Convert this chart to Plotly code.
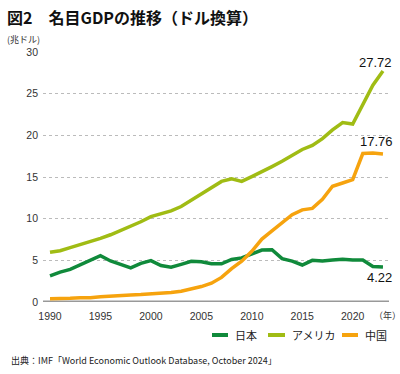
import plotly.graph_objects as go

years = list(range(1990, 2024))
japan = [3.13, 3.58, 3.91, 4.45, 4.91, 5.55, 4.92, 4.49, 4.10, 4.64, 4.97, 4.37, 4.18, 4.52, 4.89,
         4.83, 4.60, 4.58, 5.11, 5.29, 5.76, 6.23, 6.27, 5.21, 4.90, 4.44, 5.00, 4.93, 5.04, 5.12,
         5.05, 5.03, 4.26, 4.21]
usa = [5.96, 6.16, 6.52, 6.86, 7.29, 7.64, 8.07, 8.58, 9.06, 9.63, 10.25, 10.58, 10.94, 11.46, 12.21,
       13.04, 13.82, 14.47, 14.77, 14.48, 15.05, 15.60, 16.25, 16.88, 17.61, 18.30, 18.80, 19.61, 20.66,
       21.54, 21.35, 23.68, 26.01, 27.72]
china = [0.40, 0.40, 0.45, 0.52, 0.50, 0.63, 0.73, 0.80, 0.85, 0.89, 0.95, 1.05, 1.15, 1.30, 1.55,
         1.85, 2.25, 2.95, 4.00, 4.90, 6.09, 7.55, 8.53, 9.57, 10.48, 11.06, 11.23, 12.31, 13.89,
         14.28, 14.69, 17.82, 17.88, 17.76]
series_names = ["日本", "アメリカ", "中国"]
colors = ["#108a3b", "#a0bc14", "#f6a30e"]
end_labels = ["4.22", "27.72", "17.76"]
x_ticks = [1990, 1995, 2000, 2005, 2010, 2015, 2020]
y_ticks = [0, 5, 10, 15, 20, 25, 30]

NUMFONT = "Liberation Sans, Arial, sans-serif"
JPFONT = "Noto Sans CJK JP, sans-serif"

fig = go.Figure()
for name, vals, col in zip(series_names, [japan, usa, china], colors):
    fig.add_trace(go.Scatter(x=years, y=vals, mode="lines", name=name,
                             line=dict(color=col, width=3.5), showlegend=False))

# end value labels
for vals, lab, xs, ys in [(usa, end_labels[1], -7, 9), (china, end_labels[2], -6, 13),
                          (japan, end_labels[0], -3, -11)]:
    fig.add_annotation(x=years[-1], y=vals[-1], text=lab, showarrow=False,
                       xanchor="center", yanchor="middle", xshift=xs, yshift=ys,
                       font=dict(family=NUMFONT, size=13, color="#111"))

W, H = 400, 374
L, R, T, B = 43, 11, 52, 72
pw, ph = W - L - R, H - T - B

def px(x):
    return (x - L) / pw

def py(y):
    return (H - B - y) / ph

# title and unit labels
fig.add_annotation(xref="paper", yref="paper", x=px(5), y=py(17), text="<b>図2　名目GDPの推移（ドル換算）</b>",
                   showarrow=False, xanchor="left", yanchor="middle",
                   font=dict(family=JPFONT, size=16, color="#111"))
fig.add_annotation(xref="paper", yref="paper", x=px(5), y=py(40), text="(兆ドル)",
                   showarrow=False, xanchor="left", yanchor="middle",
                   font=dict(family=JPFONT, size=9, color="#333"))
fig.add_annotation(xref="paper", yref="paper", x=px(372), y=py(315), text="（年）",
                   showarrow=False, xanchor="left", yanchor="middle",
                   font=dict(family=JPFONT, size=9, color="#333"))

# manual legend
legend_items = [(212, 228, 233), (268, 285, 290), (342, 358, 363)]
for (x0, x1, xt), name, col in zip(legend_items, series_names, colors):
    fig.add_shape(type="line", xref="paper", yref="paper", x0=px(x0), x1=px(x1),
                  y0=py(335), y1=py(335), line=dict(color=col, width=4))
    fig.add_annotation(xref="paper", yref="paper", x=px(xt), y=py(335), text=name,
                       showarrow=False, xanchor="left", yanchor="middle",
                       font=dict(family=JPFONT, size=11, color="#222"))

fig.add_annotation(xref="paper", yref="paper", x=px(9), y=py(360),
                   text="出典：IMF「World Economic Outlook Database, October 2024」",
                   showarrow=False, xanchor="left", yanchor="middle",
                   font=dict(family=JPFONT, size=9, color="#222"))

# baseline
fig.add_shape(type="line", xref="paper", yref="y", x0=0, x1=1, y0=0, y1=0,
              line=dict(color="#999", width=3), layer="below")

x0 = 1990 - 7 / 10.09
fig.update_layout(
    width=W, height=H,
    margin=dict(l=L, r=R, t=T, b=B, pad=0, autoexpand=False),
    paper_bgcolor="white", plot_bgcolor="white",
    xaxis=dict(range=[x0, x0 + pw / 10.09], tickvals=x_ticks, showgrid=False, zeroline=False,
               showline=False, ticks="", ticklabelstandoff=6, automargin=False,
               tickfont=dict(family=NUMFONT, size=10.5, color="#333")),
    yaxis=dict(range=[0, 30], tickvals=y_ticks, showgrid=True, gridcolor="#bbb", griddash="dot",
               gridwidth=1, zeroline=False, showline=False, ticks="", ticklabelstandoff=4,
               automargin=False,
               tickfont=dict(family=NUMFONT, size=10.5, color="#333")),
)
fig.write_html("out.html", config={"displayModeBar": False},
               post_script="document.body.style.margin='0';document.body.style.overflow='hidden';")
